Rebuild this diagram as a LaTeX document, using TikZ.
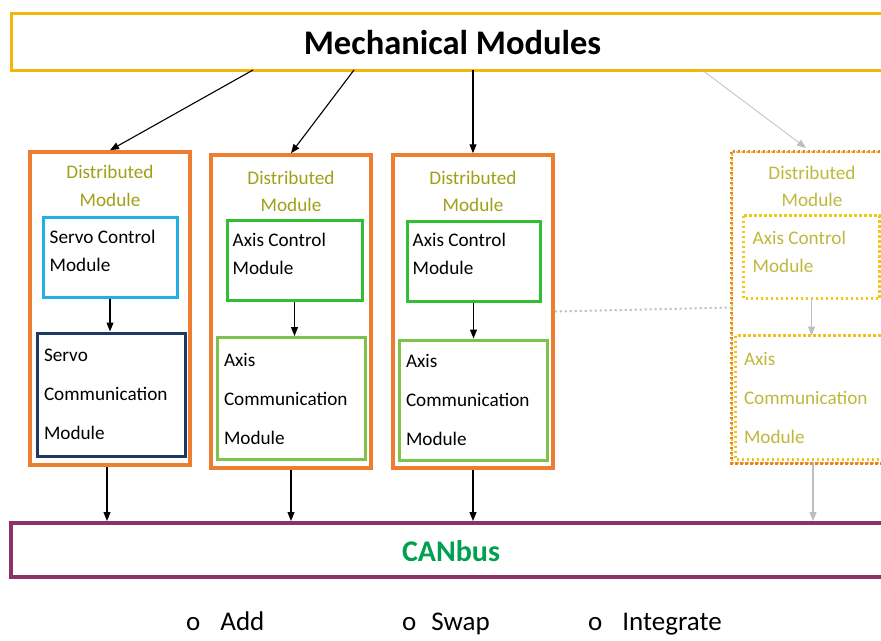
\documentclass[tikz,border=0pt]{standalone}
\usepackage{fontspec}
\setmainfont{Carlito}
\usetikzlibrary{arrows.meta,calc}

\definecolor{mechgold}{RGB}{242,183,10}
\definecolor{dorange}{RGB}{237,125,49}
\definecolor{olivetext}{RGB}{160,160,25}
\definecolor{paleolive}{RGB}{190,185,60}
\definecolor{servoblue}{RGB}{35,175,230}
\definecolor{navy}{RGB}{31,56,100}
\definecolor{axisgreen}{RGB}{50,190,50}
\definecolor{commgreen}{RGB}{125,195,75}
\definecolor{busplum}{RGB}{140,50,100}
\definecolor{busgreen}{RGB}{0,160,80}
\definecolor{ghost}{RGB}{190,190,190}
\definecolor{dotyellow}{RGB}{240,200,20}

\tikzset{
  mechbox/.style={draw=mechgold, line width=3pt, minimum width=889, minimum height=57},
  mechtext/.style={inner sep=0pt, font=\fontsize{34.5}{40}\selectfont\bfseries},
  busbox/.style={draw=busplum, line width=4pt, minimum width=889, minimum height=54},
  bustext/.style={inner sep=0pt, text=busgreen, font=\fontsize{30}{34}\selectfont\bfseries},
  dmod/.style={draw=dorange, line width=3.5pt, minimum width=160, minimum height=313, inner sep=0pt},
  dmodghost/.style={minimum width=160, minimum height=311, inner sep=0pt},
  dtitle/.style={text=olivetext, align=center, inner sep=0pt, font=\fontsize{19.2}{27.5}\selectfont},
  ctrlbox/.style={line width=3pt, minimum height=80, inner sep=0pt},
  ctrltext/.style={anchor=north west, inner sep=0pt, align=left,
    font=\fontsize{19.2}{28}\selectfont},
  commbox/.style={line width=3pt, minimum height=122, inner xsep=7pt, align=left,
    font=\fontsize{19.2}{39}\selectfont},
  arr/.style={-{Triangle[length=9pt,width=7pt]}, line width=1.1pt, black},
  ghostarr/.style={-{Triangle[length=9pt,width=7pt]}, line width=1.1pt, ghost},
  bullet/.style={anchor=base west, inner sep=0pt, font=\fontsize{27}{30}\selectfont},
}

\begin{document}
\begin{tikzpicture}[x=1pt,y=-1pt]
\useasboundingbox (0,0) rectangle (881,640);
\clip (0,0) rectangle (881,640);
\fill[white] (0,0) rectangle (881,640);

% top bar and bus bar
\node[mechbox] (mech) at (455.5,41.5) {};
\node[mechtext] (mecht) at (452.5,43) {Mechanical Modules};
\node[busbox] (can) at (455.5,550) {};
\node[bustext] (cant) at (451,551.5) {CANbus};

% attachment points on the lower edge of the top bar
\coordinate (m1) at (253,70);
\coordinate (m2) at (354,70);
\coordinate (m3) at (473,70);
\coordinate (m4) at (702,70);

% ---- distributed module 1 (servo)
\node[dmod] (d1) at (110,308.5) {};
\node[dtitle] (d1t) at (110,186) {Distributed\\Module};
\node[ctrlbox, draw=servoblue, minimum width=134] (c1) at (110,257) {};
\node[ctrltext] (c1x) at ($(c1.north west)+(8,14)$) {Servo Control\\Module};
\node[commbox, draw=navy, minimum width=148, text width=134, minimum height=123] (k1) at (111,394.5)
  {Servo\\Communication\\Module};

% ---- distributed module 2 (axis)
\node[dmod] (d2) at (291,311.5) {};
\node[dtitle] (d2t) at (291,191.5) {Distributed\\Module};
\node[ctrlbox, draw=axisgreen, minimum width=135] (c2) at (294.5,260) {};
\node[ctrltext] (c2x) at ($(c2.north west)+(7,14)$) {Axis Control\\Module};
\node[commbox, draw=commgreen, minimum width=148, text width=134] (k2) at (291,398.5)
  {Axis\\Communication\\Module};

% ---- distributed module 3 (axis)
\node[dmod] (d3) at (473,311.5) {};
\node[dtitle] (d3t) at (473,191.5) {Distributed\\Module};
\node[ctrlbox, draw=axisgreen, minimum width=133] (c3) at (473.5,261) {};
\node[ctrltext] (c3x) at ($(c3.north west)+(7,13)$) {Axis Control\\Module};
\node[commbox, draw=commgreen, minimum width=148, text width=134, minimum height=120] (k3) at (473,400)
  {Axis\\Communication\\Module};

% ---- distributed module 4 (planned, dotted)
\node[dmodghost] (d4) at (812,307.5) {};
\draw[dorange, line width=3pt, dash pattern=on 2.5pt off 2.5pt] (d4.north west) rectangle (d4.south east);
\draw[dotyellow, line width=2pt, dash pattern=on 1.5pt off 3.5pt, dash phase=-2.5pt] (d4.north west) rectangle (d4.south east);
\node[dtitle, text=paleolive] (d4t) at (812,186.5) {Distributed\\Module};
\node[ctrlbox, minimum width=133] (c4) at (811.5,257) {};
\draw[dotyellow, line width=3pt, dash pattern=on 2.5pt off 2.5pt] (c4.north west) rectangle (c4.south east);
\node[ctrltext, text=paleolive] (c4x) at ($(c4.north west)+(9,15)$) {Axis Control\\Module};
\node[commbox, text=paleolive, minimum width=148, text width=134, minimum height=121] (k4) at (811,397.5)
  {Axis\\Communication\\Module};
\draw[dotyellow, line width=3pt, dash pattern=on 2.5pt off 2.5pt] (k4.north west) rectangle (k4.south east);
\draw[dorange!70, line width=2pt, dash pattern=on 1.5pt off 8.5pt] (k4.north west) rectangle (k4.south east);

% dotted link to the planned module
\draw[ghost, line width=2pt, dash pattern=on 2pt off 3pt] (d3.east) -- (d4.west);

% top bar to modules
\draw[arr] (m1) -- (d1.north);
\draw[arr] (m2) -- (d2.north);
\draw[arr] (m3) -- (d3.north);
\draw[ghostarr, line width=0.8pt] (m4) -- (806,148);

% control to communication
\draw[arr] (c1.south) -- (c1.south |- k1.north);
\draw[arr] (c2.south) -- (c2.south |- k2.north);
\draw[arr] (c3.south) -- (c3.south |- k3.north);
\draw[ghostarr] (c4.south) -- (c4.south |- k4.north);

% modules to the bus
\draw[arr] ([xshift=-3pt]d1.south) -- ([xshift=-3pt]d1.south |- can.north);
\draw[arr] (d2.south) -- (d2.south |- can.north);
\draw[arr] (d3.south) -- (d3.south |- can.north);
\draw[ghostarr] ([xshift=1pt]d4.south) -- ([xshift=1pt]d4.south |- can.north);

% operations
\node[bullet] (b1) at (186,630) {o\hspace{20pt}Add};
\node[bullet] (b2) at (402,630) {o\hspace{15pt}Swap};
\node[bullet] (b3) at (588,630) {o\hspace{20pt}Integrate};
\end{tikzpicture}
\end{document}
